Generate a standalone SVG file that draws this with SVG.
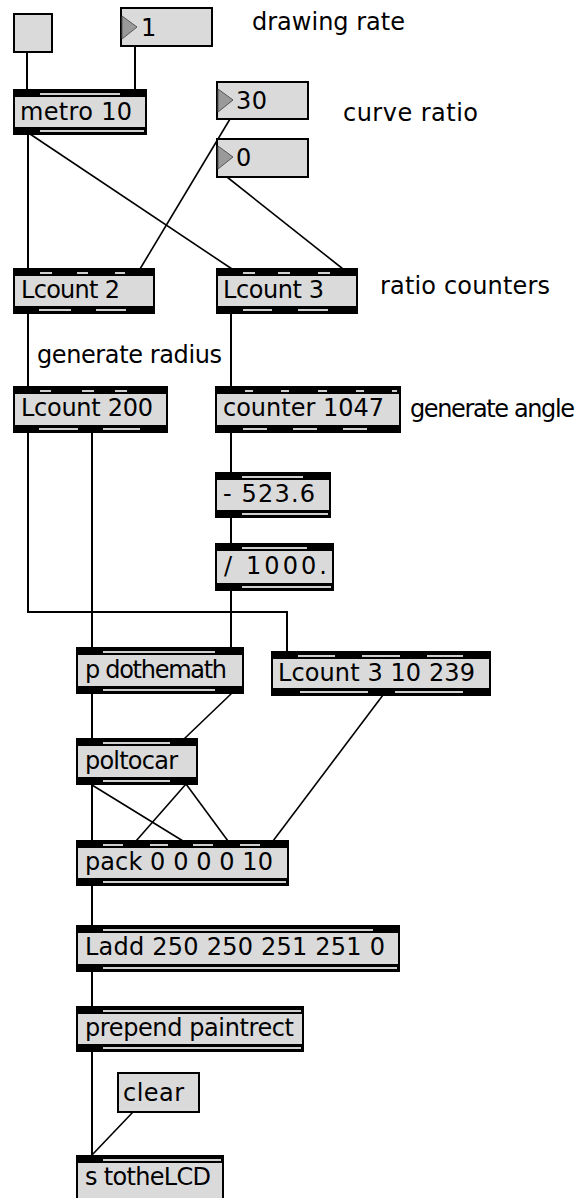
<svg xmlns="http://www.w3.org/2000/svg" width="584" height="1198" viewBox="0 0 584 1198">
  <style>
    .body { fill: #dadada; stroke: #000; stroke-width: 2; }
    .band { fill: #000; }
    .gap { fill: #cfcfcf; }
    .tri { fill: #9a9a9a; stroke: #555; stroke-width: 1; }
    .t { font-family: "DejaVu Sans", "Liberation Sans", sans-serif; font-size: 24px; fill: #000; }
    .wire { stroke: #000; stroke-width: 2; fill: none; }
    .diag { stroke: #000; stroke-width: 1.6; fill: none; }
  </style>

  <rect width="584" height="1198" fill="#fff"/>

  <!-- patch cords -->
  <g id="connectors">
    <line class="wire" x1="27" y1="52" x2="27" y2="90"/>
    <line class="wire" x1="135" y1="46" x2="135" y2="90"/>
    <line class="wire" x1="28" y1="134" x2="28" y2="269"/>
    <line class="diag" x1="30" y1="134" x2="232" y2="269"/>
    <line class="diag" x1="230" y1="119" x2="140" y2="269"/>
    <line class="diag" x1="227" y1="177" x2="343" y2="269"/>
    <line class="wire" x1="28" y1="313" x2="28" y2="387"/>
    <line class="wire" x1="231" y1="313" x2="231" y2="387"/>
    <line class="wire" x1="231" y1="432" x2="231" y2="473"/>
    <line class="wire" x1="231" y1="517" x2="231" y2="544"/>
    <line class="wire" x1="231" y1="590" x2="231" y2="648"/>
    <polyline class="wire" points="28,432 28,612 287,612 287,652"/>
    <line class="wire" x1="92" y1="432" x2="92" y2="648"/>
    <line class="wire" x1="92" y1="693" x2="92" y2="739"/>
    <line class="diag" x1="232" y1="693" x2="184" y2="739"/>
    <line class="diag" x1="383" y1="695" x2="273" y2="841"/>
    <line class="wire" x1="92" y1="784" x2="92" y2="841"/>
    <line class="diag" x1="92" y1="785" x2="183" y2="841"/>
    <line class="diag" x1="186" y1="784" x2="136" y2="841"/>
    <line class="diag" x1="186" y1="784" x2="228" y2="841"/>
    <line class="wire" x1="92" y1="885" x2="92" y2="926"/>
    <line class="wire" x1="92" y1="971" x2="92" y2="1007"/>
    <line class="wire" x1="92" y1="1051" x2="92" y2="1156"/>
    <line class="diag" x1="133" y1="1112" x2="92" y2="1155"/>
  </g>

  <!-- toggle -->
  <g id="toggle">
    <rect class="body" x="14" y="14" width="38" height="38"/>
  </g>

  <!-- number boxes -->
  <g id="num-rate">
    <rect class="body" x="121" y="8" width="91" height="38"/>
    <polygon class="tri" points="122,16 137,27 122,39"/>
    <text class="t" x="141" y="36">1</text>
  </g>
  <g id="num-30">
    <rect class="body" x="217" y="82" width="91" height="37"/>
    <polygon class="tri" points="218,89 233,100 218,112"/>
    <text class="t" x="236" y="109" textLength="31" lengthAdjust="spacing">30</text>
  </g>
  <g id="num-0">
    <rect class="body" x="217" y="139" width="91" height="38"/>
    <polygon class="tri" points="218,146 233,157 218,169"/>
    <text class="t" x="236" y="166">0</text>
  </g>

  <!-- object boxes -->
  <g id="metro">
    <rect class="body" x="14" y="90" width="132" height="44"/>
    <rect class="band" x="14" y="90" width="132" height="7"/>
    <rect class="band" x="14" y="127" width="132" height="7"/>
    <rect class="gap" x="40" y="93" width="80" height="2"/>
    <rect class="gap" x="40" y="130" width="104" height="2"/>
    <text class="t" x="20" y="120" textLength="112" lengthAdjust="spacing">metro 10</text>
  </g>

  <g id="lcount2">
    <rect class="body" x="14" y="269" width="140" height="44"/>
    <rect class="band" x="14" y="269" width="140" height="7"/>
    <rect class="band" x="14" y="306" width="140" height="7"/>
    <rect class="gap" x="40" y="272" width="12" height="2"/>
    <rect class="gap" x="77" y="272" width="11" height="2"/>
    <rect class="gap" x="115" y="272" width="10" height="2"/>
    <rect class="gap" x="39" y="309" width="32" height="2"/>
    <rect class="gap" x="96" y="309" width="30" height="2"/>
    <text class="t" x="21" y="298" textLength="99" lengthAdjust="spacing">Lcount 2</text>
  </g>

  <g id="lcount3">
    <rect class="body" x="217" y="269" width="140" height="44"/>
    <rect class="band" x="217" y="269" width="140" height="7"/>
    <rect class="band" x="217" y="306" width="140" height="7"/>
    <rect class="gap" x="243" y="272" width="12" height="2"/>
    <rect class="gap" x="278" y="272" width="12" height="2"/>
    <rect class="gap" x="318" y="272" width="12" height="2"/>
    <rect class="gap" x="243" y="309" width="29" height="2"/>
    <rect class="gap" x="298" y="309" width="30" height="2"/>
    <text class="t" x="223" y="298" textLength="101" lengthAdjust="spacing">Lcount 3</text>
  </g>

  <g id="lcount200">
    <rect class="body" x="14" y="387" width="153" height="45"/>
    <rect class="band" x="14" y="387" width="153" height="7"/>
    <rect class="band" x="14" y="425" width="153" height="7"/>
    <rect class="gap" x="40" y="390" width="11" height="2"/>
    <rect class="gap" x="82" y="390" width="12" height="2"/>
    <rect class="gap" x="115" y="390" width="12" height="2"/>
    <rect class="gap" x="39" y="428" width="39" height="2"/>
    <rect class="gap" x="103" y="428" width="37" height="2"/>
    <text class="t" x="21" y="416" textLength="132" lengthAdjust="spacing">Lcount 200</text>
  </g>

  <g id="counter">
    <rect class="body" x="216" y="387" width="184" height="45"/>
    <rect class="band" x="216" y="387" width="184" height="7"/>
    <rect class="band" x="216" y="425" width="184" height="7"/>
    <rect class="gap" x="245" y="390" width="8" height="2"/>
    <rect class="gap" x="281" y="390" width="8" height="2"/>
    <rect class="gap" x="318" y="390" width="9" height="2"/>
    <rect class="gap" x="356" y="390" width="8" height="2"/>
    <rect class="gap" x="392" y="390" width="5" height="2"/>
    <rect class="gap" x="243" y="428" width="24" height="2"/>
    <rect class="gap" x="293" y="428" width="24" height="2"/>
    <rect class="gap" x="343" y="428" width="24" height="2"/>
    <text class="t" x="223" y="416" textLength="161" lengthAdjust="spacing">counter 1047</text>
  </g>

  <g id="minus">
    <rect class="body" x="216" y="473" width="114" height="44"/>
    <rect class="band" x="216" y="473" width="114" height="7"/>
    <rect class="band" x="216" y="510" width="114" height="7"/>
    <rect class="gap" x="242" y="476" width="61" height="2"/>
    <rect class="gap" x="242" y="513" width="86" height="2"/>
    <text class="t" x="223" y="502" textLength="92" lengthAdjust="spacing">- 523.6</text>
  </g>

  <g id="divide">
    <rect class="body" x="216" y="544" width="117" height="46"/>
    <rect class="band" x="216" y="544" width="117" height="7"/>
    <rect class="band" x="216" y="583" width="117" height="7"/>
    <rect class="gap" x="242" y="547" width="65" height="2"/>
    <rect class="gap" x="242" y="586" width="89" height="2"/>
    <text class="t" x="224" y="574" textLength="103" lengthAdjust="spacing">/ 1000.</text>
  </g>

  <g id="dothemath">
    <rect class="body" x="77" y="648" width="166" height="45"/>
    <rect class="band" x="77" y="648" width="166" height="7"/>
    <rect class="band" x="77" y="686" width="166" height="7"/>
    <rect class="gap" x="103" y="651" width="112" height="2"/>
    <rect class="gap" x="103" y="689" width="112" height="2"/>
    <text class="t" x="85" y="678" textLength="142" lengthAdjust="spacing">p dothemath</text>
  </g>

  <g id="lcount-3-10-239">
    <rect class="body" x="272" y="652" width="218" height="43"/>
    <rect class="band" x="272" y="652" width="218" height="7"/>
    <rect class="band" x="272" y="688" width="218" height="7"/>
    <rect class="gap" x="298" y="655" width="37" height="2"/>
    <rect class="gap" x="362" y="655" width="38" height="2"/>
    <rect class="gap" x="427" y="655" width="36" height="2"/>
    <rect class="gap" x="300" y="691" width="68" height="2"/>
    <rect class="gap" x="395" y="691" width="68" height="2"/>
    <text class="t" x="278" y="681" textLength="197" lengthAdjust="spacing">Lcount 3 10 239</text>
  </g>

  <g id="poltocar">
    <rect class="body" x="77" y="739" width="120" height="45"/>
    <rect class="band" x="77" y="739" width="120" height="7"/>
    <rect class="band" x="77" y="777" width="120" height="7"/>
    <rect class="gap" x="103" y="742" width="67" height="2"/>
    <rect class="gap" x="103" y="780" width="67" height="2"/>
    <text class="t" x="85" y="769" textLength="93" lengthAdjust="spacing">poltocar</text>
  </g>

  <g id="pack">
    <rect class="body" x="77" y="841" width="211" height="44"/>
    <rect class="band" x="77" y="841" width="211" height="7"/>
    <rect class="band" x="77" y="878" width="211" height="7"/>
    <rect class="gap" x="103" y="844" width="20" height="2"/>
    <rect class="gap" x="150" y="844" width="18" height="2"/>
    <rect class="gap" x="193" y="844" width="20" height="2"/>
    <rect class="gap" x="240" y="844" width="20" height="2"/>
    <rect class="gap" x="103" y="881" width="183" height="2"/>
    <text class="t" x="85" y="870" textLength="188" lengthAdjust="spacing">pack 0 0 0 0 10</text>
  </g>

  <g id="ladd">
    <rect class="body" x="77" y="926" width="322" height="45"/>
    <rect class="band" x="77" y="926" width="322" height="7"/>
    <rect class="band" x="77" y="964" width="322" height="7"/>
    <rect class="gap" x="103" y="929" width="270" height="2"/>
    <rect class="gap" x="103" y="967" width="294" height="2"/>
    <text class="t" x="85" y="955" textLength="300" lengthAdjust="spacing">Ladd 250 250 251 251 0</text>
  </g>

  <g id="prepend">
    <rect class="body" x="77" y="1007" width="226" height="44"/>
    <rect class="band" x="77" y="1007" width="226" height="7"/>
    <rect class="band" x="77" y="1044" width="226" height="7"/>
    <rect class="gap" x="103" y="1010" width="198" height="2"/>
    <rect class="gap" x="103" y="1047" width="198" height="2"/>
    <text class="t" x="85" y="1036" textLength="209" lengthAdjust="spacing">prepend paintrect</text>
  </g>

  <g id="clear">
    <rect class="body" x="118" y="1073" width="81" height="39"/>
    <text class="t" x="123" y="1101" textLength="61" lengthAdjust="spacing">clear</text>
  </g>

  <g id="send">
    <rect class="body" x="77" y="1156" width="146" height="46"/>
    <rect class="band" x="77" y="1156" width="146" height="7"/>
    <rect class="gap" x="103" y="1159" width="118" height="2"/>
    <text class="t" x="85" y="1185" textLength="126" lengthAdjust="spacing">s totheLCD</text>
  </g>

  <!-- comments -->
  <g id="comments">
    <text class="t" x="252" y="30" textLength="153" lengthAdjust="spacing">drawing rate</text>
    <text class="t" x="343" y="121" textLength="135" lengthAdjust="spacing">curve ratio</text>
    <text class="t" x="380" y="294" textLength="170" lengthAdjust="spacing">ratio counters</text>
    <text class="t" x="37" y="363" textLength="185" lengthAdjust="spacing">generate radius</text>
    <text class="t" x="410" y="417" textLength="165" lengthAdjust="spacing">generate angle</text>
  </g>
</svg>
